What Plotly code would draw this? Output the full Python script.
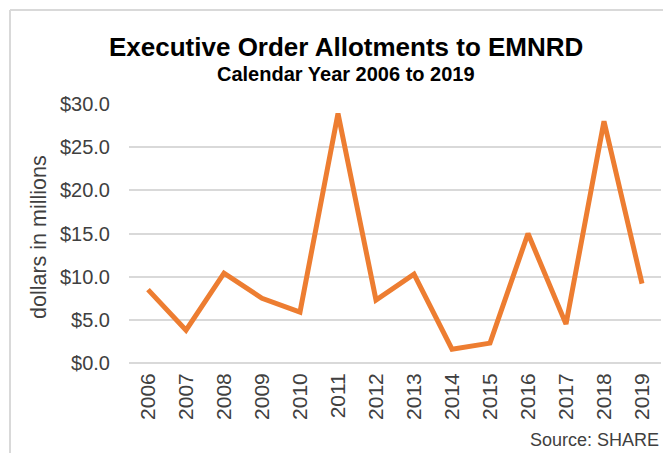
import plotly.graph_objects as go

years = ["2006", "2007", "2008", "2009", "2010", "2011", "2012",
         "2013", "2014", "2015", "2016", "2017", "2018", "2019"]
allotments = [8.5, 3.8, 10.4, 7.5, 5.9, 28.9, 7.3, 10.3, 1.6, 2.3, 15.0, 4.5, 28.0, 9.2]

title_text = "Executive Order Allotments to EMNRD"
subtitle_text = "Calendar Year 2006 to 2019"
y_title = "dollars in millions"
source_text = "Source: SHARE"

# page has an 8px body margin; figure sized to fit the window
OFF = 8
W, H = 671 - OFF, 453 - OFF
L, R, T, B = 129 - OFF, 10, 104 - OFF, 90
pw, ph = W - L - R, H - T - B

def px(x):  # page pixel -> paper x
    return (x - OFF - L) / pw

def py(y):  # page pixel -> paper y
    return (H - B - (y - OFF)) / ph

FONT = "Liberation Sans, Arial, sans-serif"
GRID = "#d9d9d9"

fig = go.Figure()
fig.add_trace(go.Scatter(
    x=years, y=allotments, mode="lines",
    line=dict(color="#ED7D31", width=5, shape="linear"),
    hoverinfo="x+y",
))

fig.update_layout(
    width=W, height=H,
    margin=dict(l=L, r=R, t=T, b=B),
    paper_bgcolor="white", plot_bgcolor="white",
    showlegend=False,
    font=dict(family=FONT, color="#404040"),
    xaxis=dict(
        type="category", range=[-0.5, len(years) - 0.5],
        tickangle=-90, showgrid=False, showline=False,
        ticks="", ticklabelstandoff=5,
        tickfont=dict(size=21, color="#404040"),
    ),
    yaxis=dict(
        range=[0, 30], dtick=5, tickprefix="$", tickformat=".1f",
        showgrid=True, gridcolor=GRID, gridwidth=2,
        zeroline=True, zerolinecolor=GRID, zerolinewidth=2,
        showline=False, ticks="", ticklabelstandoff=18,
        tickfont=dict(size=20, color="#404040"),
    ),
    shapes=[
        dict(type="line", xref="paper", yref="paper",
             x0=px(10), x1=px(700), y0=py(10), y1=py(10),
             line=dict(color=GRID, width=2)),
        dict(type="line", xref="paper", yref="paper",
             x0=px(10), x1=px(10), y0=py(10), y1=py(480),
             line=dict(color=GRID, width=2)),
    ],
    annotations=[
        dict(text=f"<b>{title_text}</b>", xref="paper", yref="paper",
             x=px(346), y=py(47), xanchor="center", yanchor="middle",
             showarrow=False, font=dict(size=26, color="black", family=FONT)),
        dict(text=f"<b>{subtitle_text}</b>", xref="paper", yref="paper",
             x=px(346), y=py(74), xanchor="center", yanchor="middle",
             showarrow=False, font=dict(size=20, color="black", family=FONT)),
        dict(text=y_title, xref="paper", yref="paper",
             x=px(39), y=py(237), xanchor="center", yanchor="middle",
             textangle=-90, showarrow=False,
             font=dict(size=21.5, color="#404040", family=FONT)),
        dict(text=source_text, xref="paper", yref="paper",
             x=px(661), y=py(440), xanchor="right", yanchor="middle",
             showarrow=False, font=dict(size=18, color="#404040", family=FONT)),
    ],
)

fig.write_html("out.html")
